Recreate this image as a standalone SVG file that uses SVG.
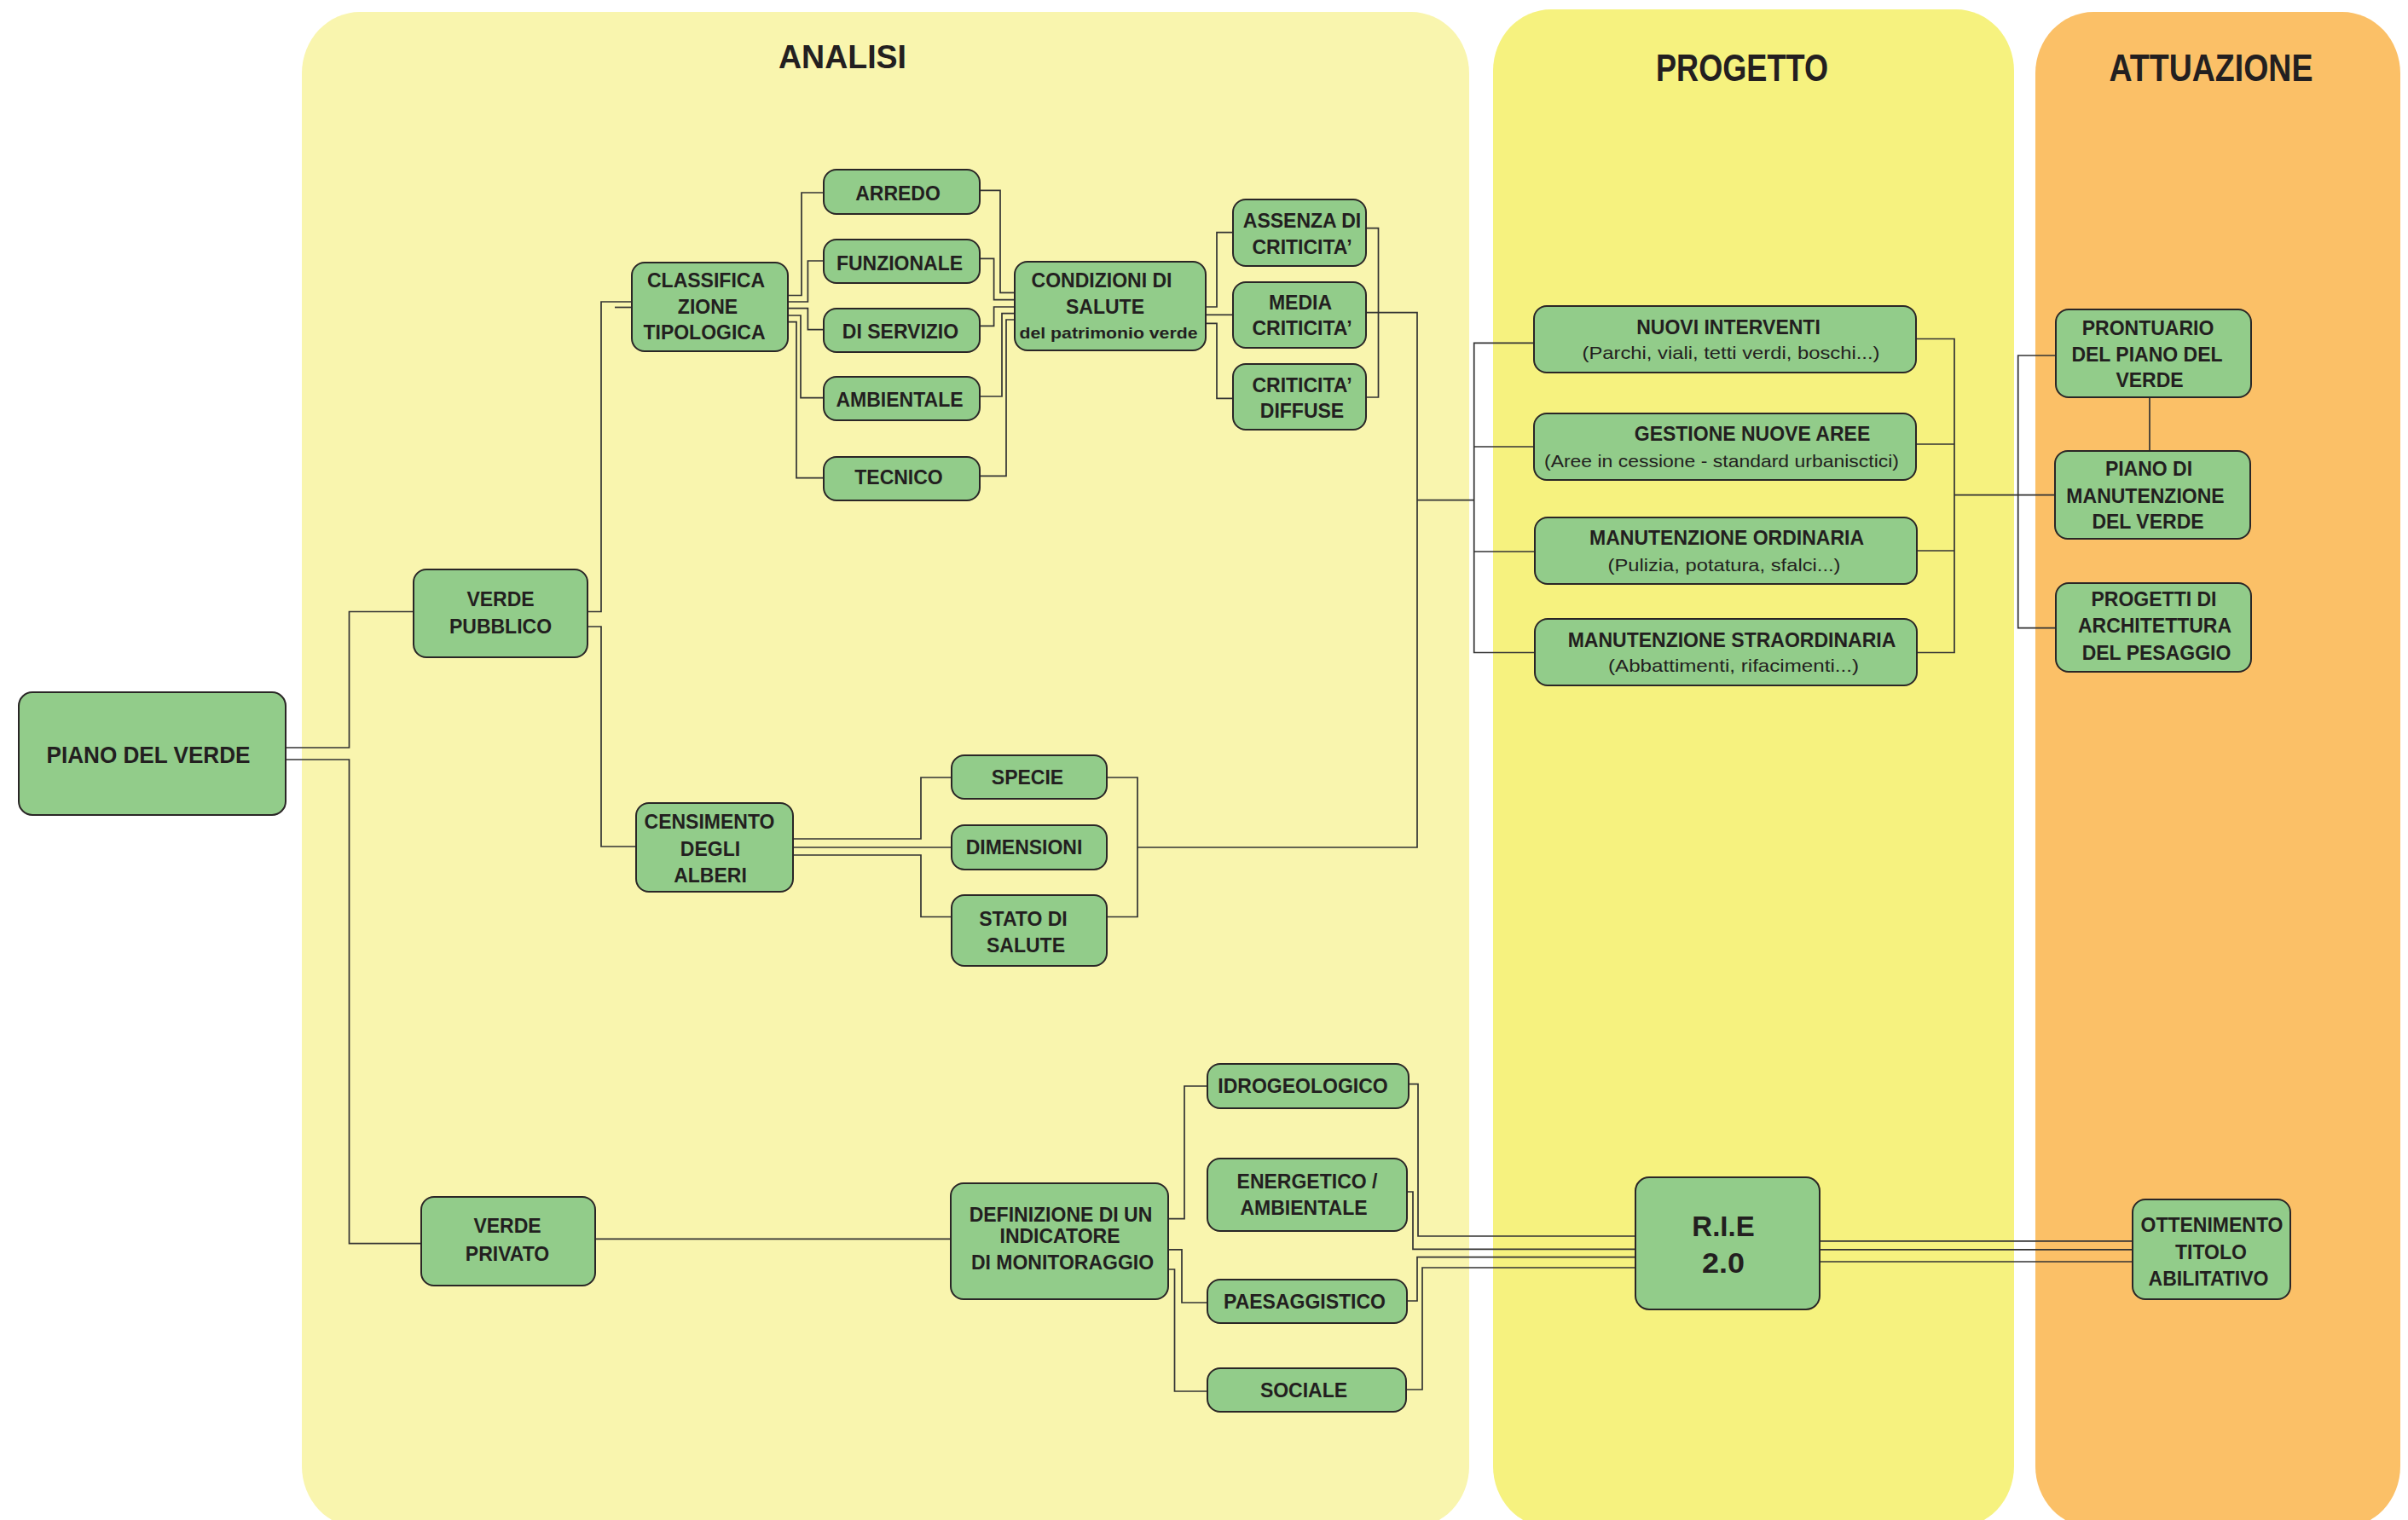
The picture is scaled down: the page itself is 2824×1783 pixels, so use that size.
<svg xmlns="http://www.w3.org/2000/svg" width="2824" height="1783" viewBox="0 0 2824 1783">
<style>
.node rect{fill:#92CC8A;stroke:#2a2626;stroke-width:2}
text{font-family:"Liberation Sans",Arial,sans-serif;fill:#231F20;text-anchor:middle}
.b{font-weight:bold;font-size:23px}
.s{font-weight:normal;font-size:21px}
.t{font-weight:bold}
#connectors path{fill:none;stroke:#333;stroke-width:1.7}
</style>
<rect width="2824" height="1783" fill="#ffffff"/>
<g id="panels">
<rect x="354" y="14" width="1369" height="1778" rx="68" ry="72" fill="#F9F5AE"/>
<rect x="1751" y="11" width="611" height="1781" rx="68" ry="72" fill="#F6F27F"/>
<rect x="2387" y="14" width="428" height="1778" rx="68" ry="72" fill="#FBC067"/>
<text class="t" x="988" y="80" font-size="38" textLength="150" lengthAdjust="spacingAndGlyphs">ANALISI</text>
<text class="t" x="2043" y="95" font-size="44" textLength="202" lengthAdjust="spacingAndGlyphs">PROGETTO</text>
<text class="t" x="2593" y="95" font-size="44" textLength="239" lengthAdjust="spacingAndGlyphs">ATTUAZIONE</text>
</g>
<g id="connectors">
<path d="M335 877H409.5V717.5H485"/>
<path d="M335 891H409.5V1458.7H494"/>
<path d="M689 717.5H705V354H741"/>
<path d="M721 360.5H741"/>
<path d="M689 735H705V993H746"/>
<path d="M924 346.5H940V226H966"/>
<path d="M924 354H947.4V306H966"/>
<path d="M924 361.7H947.4V386.7H966"/>
<path d="M924 370H939V466.7H966"/>
<path d="M924 377.7H934V560.7H966"/>
<path d="M1149 223.3H1173V343.3H1190"/>
<path d="M1149 303.3H1165.6V351.7H1190"/>
<path d="M1149 382.3H1165.6V360H1190"/>
<path d="M1149 465H1175V367.7H1190"/>
<path d="M1149 558.3H1180V375H1190"/>
<path d="M1414 360H1427V272.7H1446"/>
<path d="M1414 369.3H1446"/>
<path d="M1414 379.3H1427V467.3H1446"/>
<path d="M1602 267.7H1616.5V466H1602"/>
<path d="M1602 366.7H1662V994H1334"/>
<path d="M1662 586.7H1729"/>
<path d="M1799 402.4H1728.7V765.5H1800"/>
<path d="M1728.7 524H1799"/>
<path d="M1728.7 647H1800"/>
<path d="M930 984H1080V912H1116"/>
<path d="M930 994H1116"/>
<path d="M930 1003H1080V1075.5H1116"/>
<path d="M1298 912H1334V1075.5H1298"/>
<path d="M2247 397.5H2292V765.5H2248"/>
<path d="M2247 521H2292"/>
<path d="M2248 646H2292"/>
<path d="M2292 580.6H2410"/>
<path d="M2411 417H2366.7V736.7H2411"/>
<path d="M2521 466V529"/>
<path d="M698 1453.3H1115"/>
<path d="M1370 1429.7H1389V1274H1416"/>
<path d="M1370 1465.8H1386V1528H1416"/>
<path d="M1370 1489H1377.5V1632H1416"/>
<path d="M1652 1271.7H1663V1450H1918.6"/>
<path d="M1650.5 1398H1657V1465.4H1918.6"/>
<path d="M1650.5 1526H1662V1474.7H1918.6"/>
<path d="M1649 1630H1668V1487H1918.6"/>
<path d="M2134 1455.8H2501.5"/>
<path d="M2134 1465.8H2501.5"/>
<path d="M2134 1480H2501.5"/>
</g>
<g id="piano-del-verde" class="node"><rect x="22" y="812" width="313" height="144" rx="16"/><text class="t" x="174" y="895" font-size="28" textLength="239" lengthAdjust="spacingAndGlyphs">PIANO DEL VERDE</text></g>
<g id="verde-pubblico" class="node"><rect x="485" y="668" width="204" height="103" rx="15"/><text class="b" x="587" y="711">VERDE</text><text class="b" x="587" y="743">PUBBLICO</text></g>
<g id="verde-privato" class="node"><rect x="494" y="1404" width="204" height="104" rx="15"/><text class="b" x="595" y="1446">VERDE</text><text class="b" x="595" y="1479">PRIVATO</text></g>
<g id="classificazione" class="node"><rect x="741" y="308" width="183" height="104" rx="15"/><text class="b" x="828" y="337">CLASSIFICA</text><text class="b" x="830" y="368">ZIONE</text><text class="b" x="826" y="398">TIPOLOGICA</text></g>
<g id="arredo" class="node"><rect x="966" y="199" width="183" height="52" rx="15"/><text class="b" x="1053" y="235">ARREDO</text></g>
<g id="funzionale" class="node"><rect x="966" y="281" width="183" height="51" rx="15"/><text class="b" x="1055" y="317">FUNZIONALE</text></g>
<g id="di-servizio" class="node"><rect x="966" y="362" width="183" height="51" rx="15"/><text class="b" x="1056" y="397">DI SERVIZIO</text></g>
<g id="ambientale" class="node"><rect x="966" y="442" width="183" height="51" rx="15"/><text class="b" x="1055" y="477">AMBIENTALE</text></g>
<g id="tecnico" class="node"><rect x="966" y="536" width="183" height="51" rx="15"/><text class="b" x="1054" y="568">TECNICO</text></g>
<g id="condizioni" class="node"><rect x="1190" y="307" width="224" height="104" rx="15"/><text class="b" x="1292" y="337">CONDIZIONI DI</text><text class="b" x="1296" y="368">SALUTE</text><text class="t" x="1300" y="397" font-size="19" textLength="209" lengthAdjust="spacingAndGlyphs">del patrimonio verde</text></g>
<g id="assenza" class="node"><rect x="1446" y="234" width="156" height="78" rx="15"/><text class="b" x="1527" y="267">ASSENZA DI</text><text class="b" x="1527" y="298">CRITICITA’</text></g>
<g id="media" class="node"><rect x="1446" y="331" width="156" height="77" rx="15"/><text class="b" x="1525" y="363">MEDIA</text><text class="b" x="1527" y="393">CRITICITA’</text></g>
<g id="diffuse" class="node"><rect x="1446" y="427" width="156" height="77" rx="15"/><text class="b" x="1527" y="460">CRITICITA’</text><text class="b" x="1527" y="490">DIFFUSE</text></g>
<g id="censimento" class="node"><rect x="746" y="942" width="184" height="104" rx="15"/><text class="b" x="832" y="972">CENSIMENTO</text><text class="b" x="833" y="1004">DEGLI</text><text class="b" x="833" y="1035">ALBERI</text></g>
<g id="specie" class="node"><rect x="1116" y="886" width="182" height="51" rx="15"/><text class="b" x="1205" y="920">SPECIE</text></g>
<g id="dimensioni" class="node"><rect x="1116" y="968" width="182" height="52" rx="15"/><text class="b" x="1201" y="1002">DIMENSIONI</text></g>
<g id="stato-salute" class="node"><rect x="1116" y="1050" width="182" height="83" rx="15"/><text class="b" x="1200" y="1086">STATO DI</text><text class="b" x="1203" y="1117">SALUTE</text></g>
<g id="definizione" class="node"><rect x="1115" y="1388" width="255" height="136" rx="15"/><text class="b" x="1244" y="1433">DEFINIZIONE DI UN</text><text class="b" x="1243" y="1458">INDICATORE</text><text class="b" x="1246" y="1489">DI MONITORAGGIO</text></g>
<g id="idrogeologico" class="node"><rect x="1416" y="1248" width="236" height="52" rx="15"/><text class="b" x="1528" y="1282">IDROGEOLOGICO</text></g>
<g id="energetico" class="node"><rect x="1416" y="1359" width="234" height="85" rx="15"/><text class="b" x="1533" y="1394">ENERGETICO /</text><text class="b" x="1529" y="1425">AMBIENTALE</text></g>
<g id="paesaggistico" class="node"><rect x="1416" y="1501" width="234" height="51" rx="15"/><text class="b" x="1530" y="1535">PAESAGGISTICO</text></g>
<g id="sociale" class="node"><rect x="1416" y="1605" width="233" height="51" rx="15"/><text class="b" x="1529" y="1639">SOCIALE</text></g>
<g id="nuovi-interventi" class="node"><rect x="1799" y="359" width="448" height="78" rx="15"/><text class="b" x="2027" y="392">NUOVI INTERVENTI</text><text class="s" x="2030" y="421" textLength="349" lengthAdjust="spacingAndGlyphs">(Parchi, viali, tetti verdi, boschi...)</text></g>
<g id="gestione" class="node"><rect x="1799" y="485" width="448" height="78" rx="15"/><text class="b" x="2055" y="517">GESTIONE NUOVE AREE</text><text class="s" x="2019" y="548" textLength="416" lengthAdjust="spacingAndGlyphs">(Aree in cessione - standard urbanisctici)</text></g>
<g id="manutenzione-ordinaria" class="node"><rect x="1800" y="607" width="448" height="78" rx="15"/><text class="b" x="2025" y="639">MANUTENZIONE ORDINARIA</text><text class="s" x="2022" y="670" textLength="273" lengthAdjust="spacingAndGlyphs">(Pulizia, potatura, sfalci...)</text></g>
<g id="manutenzione-straordinaria" class="node"><rect x="1800" y="726" width="448" height="78" rx="15"/><text class="b" x="2031" y="759">MANUTENZIONE STRAORDINARIA</text><text class="s" x="2033" y="788" textLength="294" lengthAdjust="spacingAndGlyphs">(Abbattimenti, rifacimenti...)</text></g>
<g id="rie" class="node"><rect x="1918" y="1381" width="216" height="155" rx="16"/><text class="t" x="2021" y="1450" font-size="33">R.I.E</text><text class="t" x="2021" y="1493" font-size="33" textLength="50" lengthAdjust="spacingAndGlyphs">2.0</text></g>
<g id="prontuario" class="node"><rect x="2411" y="363" width="229" height="103" rx="15"/><text class="b" x="2519" y="393">PRONTUARIO</text><text class="b" x="2518" y="424">DEL PIANO DEL</text><text class="b" x="2521" y="454">VERDE</text></g>
<g id="piano-manutenzione" class="node"><rect x="2410" y="529" width="229" height="103" rx="15"/><text class="b" x="2520" y="558">PIANO DI</text><text class="b" x="2516" y="590">MANUTENZIONE</text><text class="b" x="2519" y="620">DEL VERDE</text></g>
<g id="progetti-architettura" class="node"><rect x="2411" y="684" width="229" height="104" rx="15"/><text class="b" x="2526" y="711">PROGETTI DI</text><text class="b" x="2527" y="742">ARCHITETTURA</text><text class="b" x="2529" y="774">DEL PESAGGIO</text></g>
<g id="ottenimento" class="node"><rect x="2501" y="1407" width="185" height="117" rx="15"/><text class="b" x="2594" y="1445">OTTENIMENTO</text><text class="b" x="2593" y="1477">TITOLO</text><text class="b" x="2590" y="1508">ABILITATIVO</text></g>
</svg>
